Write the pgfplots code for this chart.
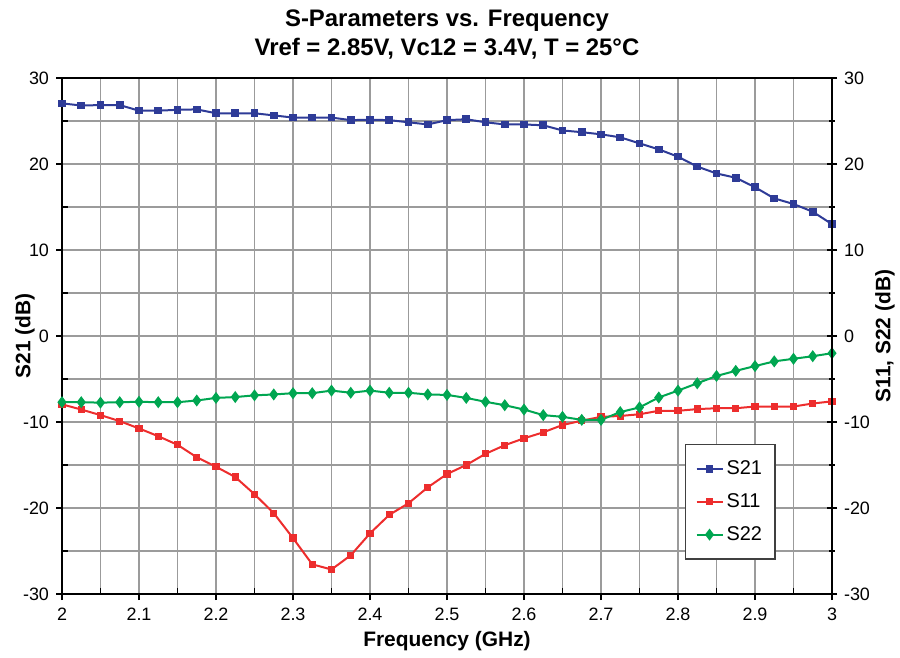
\documentclass[border=0pt]{standalone}
\usepackage{pgfplots}
\pgfplotsset{compat=1.18}
\usepackage{pgfplotstable}
\usepackage{fontspec}
\setmainfont{Liberation Sans}

\definecolor{sblue}{RGB}{46,59,151}
\definecolor{sred}{RGB}{237,45,45}
\definecolor{sgreen}{RGB}{0,166,81}
\definecolor{gridgray}{RGB}{155,155,155}

% frequency (GHz) vs dB
\pgfplotstableread{
f s21
2.000 27.05
2.025 26.8
2.050 26.85
2.075 26.85
2.100 26.2
2.125 26.2
2.150 26.3
2.175 26.35
2.200 25.9
2.225 25.9
2.250 25.9
2.275 25.65
2.300 25.4
2.325 25.4
2.350 25.4
2.375 25.1
2.400 25.15
2.425 25.1
2.450 24.85
2.475 24.6
2.500 25.1
2.525 25.2
2.550 24.85
2.575 24.6
2.600 24.6
2.625 24.5
2.650 23.9
2.675 23.7
2.700 23.45
2.725 23.1
2.750 22.4
2.775 21.7
2.800 20.85
2.825 19.7
2.850 18.9
2.875 18.4
2.900 17.3
2.925 16.0
2.950 15.35
2.975 14.45
3.000 13.0
}\sdata

\pgfplotstableread{
f s11
2.000 -7.95
2.025 -8.55
2.050 -9.2
2.075 -9.9
2.100 -10.75
2.125 -11.65
2.150 -12.65
2.175 -14.1
2.200 -15.2
2.225 -16.4
2.250 -18.4
2.275 -20.6
2.300 -23.5
2.325 -26.55
2.350 -27.15
2.375 -25.5
2.400 -22.95
2.425 -20.8
2.450 -19.45
2.475 -17.6
2.500 -16.05
2.525 -15.0
2.550 -13.7
2.575 -12.7
2.600 -11.9
2.625 -11.2
2.650 -10.35
2.675 -9.85
2.700 -9.4
2.725 -9.3
2.750 -9.1
2.775 -8.7
2.800 -8.7
2.825 -8.5
2.850 -8.4
2.875 -8.4
2.900 -8.2
2.925 -8.2
2.950 -8.2
2.975 -7.85
3.000 -7.6
}\sone

\pgfplotstableread{
f s22
2.000 -7.7
2.025 -7.7
2.050 -7.75
2.075 -7.7
2.100 -7.65
2.125 -7.7
2.150 -7.7
2.175 -7.5
2.200 -7.2
2.225 -7.1
2.250 -6.9
2.275 -6.8
2.300 -6.65
2.325 -6.65
2.350 -6.35
2.375 -6.6
2.400 -6.35
2.425 -6.6
2.450 -6.6
2.475 -6.8
2.500 -6.85
2.525 -7.2
2.550 -7.65
2.575 -8.05
2.600 -8.55
2.625 -9.2
2.650 -9.4
2.675 -9.75
2.700 -9.75
2.725 -8.85
2.750 -8.3
2.775 -7.15
2.800 -6.35
2.825 -5.5
2.850 -4.65
2.875 -4.05
2.900 -3.5
2.925 -2.95
2.950 -2.65
2.975 -2.35
3.000 -2.0
}\stwo

\pgfplotsset{
  sparbase/.style={
    scale only axis,
    width=385bp, height=258bp,
    xmin=2, xmax=3, ymin=-30, ymax=30,
    xtick={2,2.1,...,3.01},
    ytick={-30,-20,...,30},
    minor xtick={2.05,2.15,...,3},
    minor ytick={-25,-15,...,25},
    tick label style={font=\fontsize{9}{10}\selectfont},
    /pgf/number format/assume math mode=true,
    label style={font=\bfseries\fontsize{10.5}{12}\selectfont},
    major tick length=3bp,
    minor tick length=-3bp,
    tick style={black, line width=0.6bp},
  },
}

\begin{document}
\begin{tikzpicture}
\begin{axis}[
  sparbase,
  name=main,
  axis line style={black, line width=1.1bp},
  tick align=outside,
  xtick pos=bottom, ytick pos=left,
  grid=both,
  major grid style={gridgray, line width=0.7bp},
  minor grid style={gridgray, line width=0.7bp},
  xticklabel style={yshift=-0.5bp},
  xlabel={Frequency (GHz)},
  xlabel style={at={(rel axis cs:0.5,0)}, anchor=center, yshift=-23.5bp},
  ylabel={S21 (dB)},
  ylabel style={at={(rel axis cs:0,0.5)}, anchor=center, yshift=18.5bp},
  legend style={at={(rel axis cs:0.809,0.291)}, anchor=north west,
    draw=black!75, line width=0.6bp, fill=white,
    font=\fontsize{10}{12}\selectfont,
    inner xsep=5bp, inner ysep=6bp, row sep=4bp,
    nodes={inner xsep=1.5bp}},
  legend image code/.code={
    \draw[mark repeat=2, mark phase=2] plot coordinates {(0bp,0bp) (6.5bp,0bp) (13bp,0bp)};},
  legend cell align=left,
]
\addplot[sblue, line width=1bp, mark=square*, mark size=1.4bp,
  mark options={solid}] table[x=f, y=s21] {\sdata};
\addlegendentry{S21}
\addplot[sred, line width=1bp, mark=square*, mark size=1.3bp,
  mark options={solid}] table[x=f, y=s11] {\sone};
\addlegendentry{S11}
\addplot[sgreen, line width=1bp, mark=diamond*, mark size=2.2bp,
  mark options={solid}] table[x=f, y=s22] {\stwo};
\addlegendentry{S22}
\end{axis}

\begin{axis}[
  sparbase,
  at={(main.south west)}, anchor=south west,
  axis x line=none,
  axis y line*=right,
  axis line style={black, line width=1.1bp, -},
  tick align=center,
  major tick length=5bp,
  ylabel={S11, S22 (dB)},
  ylabel style={at={(rel axis cs:1,0.5)}, anchor=center, yshift=-26.5bp},
]
\addplot[draw=none, forget plot] coordinates {(2,0)};
\end{axis}

\node[anchor=base, font=\bfseries\fontsize{12}{14}\selectfont]
  at ([yshift=25.5bp]main.north) {S-Parameters vs. Frequency};
\node[anchor=base, font=\bfseries\fontsize{12}{14}\selectfont]
  at ([yshift=11bp]main.north) {Vref = 2.85V, Vc12 = 3.4V, T = 25\textdegree C};

\pgfresetboundingbox
\path ([shift={(-31bp,-32bp)}]main.south west) rectangle ([shift={(34bp,39bp)}]main.north east);
\end{tikzpicture}
\end{document}
